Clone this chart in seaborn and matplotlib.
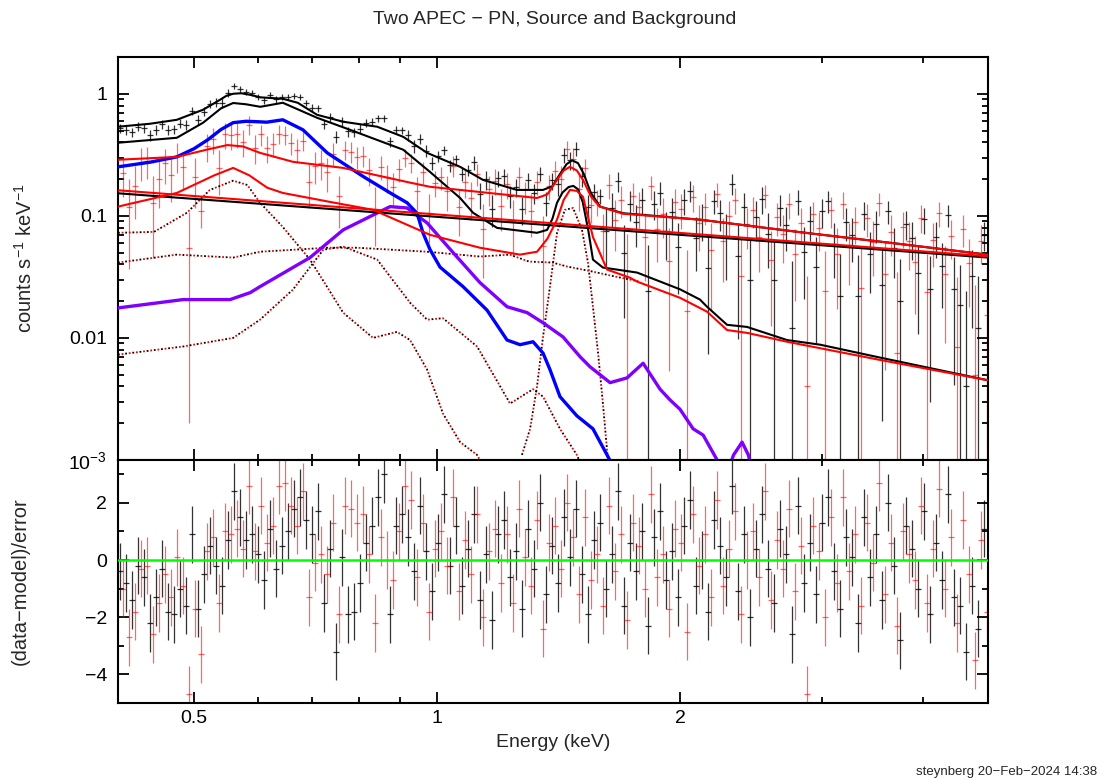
import numpy as np
import matplotlib
matplotlib.use("Agg")
import matplotlib.pyplot as plt
import matplotlib.ticker as mticker
import seaborn as sns

# ---------------- data ----------------
# source spectrum (black): bin centre energy (keV), rate, 1-sigma error, residual
src_energy = [
    0.405, 0.412, 0.419, 0.426, 0.434, 0.441, 0.449, 0.456, 0.464, 0.472,
    0.480, 0.489, 0.497, 0.506, 0.514, 0.523, 0.532, 0.542, 0.551, 0.560,
    0.570, 0.580, 0.590, 0.600, 0.610, 0.621, 0.632, 0.643, 0.654, 0.665,
    0.677, 0.688, 0.700, 0.712, 0.724, 0.737, 0.750, 0.763, 0.776, 0.789,
    0.803, 0.817, 0.831, 0.845, 0.860, 0.875, 0.890, 0.905, 0.921, 0.936,
    0.953, 0.969, 0.986, 1.003, 1.020, 1.038, 1.056, 1.074, 1.092, 1.111,
    1.130, 1.150, 1.170, 1.190, 1.211, 1.231, 1.253, 1.274, 1.296, 1.319,
    1.341, 1.365, 1.388, 1.412, 1.437, 1.461, 1.487, 1.512, 1.538, 1.565,
    1.592, 1.619, 1.647, 1.676, 1.705, 1.734, 1.764, 1.794, 1.825, 1.857,
    1.889, 1.922, 1.955, 1.988, 2.023, 2.058, 2.093, 2.129, 2.166, 2.203,
    2.242, 2.280, 2.320, 2.360, 2.400, 2.442, 2.484, 2.527, 2.570, 2.615,
    2.660, 2.706, 2.753, 2.800, 2.848, 2.898, 2.948, 2.998, 3.050, 3.103,
    3.156, 3.211, 3.266, 3.323, 3.380, 3.438, 3.498, 3.558, 3.619, 3.682,
    3.746, 3.810, 3.876, 3.943, 4.011, 4.080, 4.151, 4.222, 4.295, 4.369,
    4.445, 4.521, 4.599, 4.679, 4.759]
src_rate = [
    0.521, 0.506, 0.483, 0.538, 0.525, 0.459, 0.508, 0.563, 0.505, 0.512,
    0.569, 0.558, 0.718, 0.613, 0.715, 0.832, 0.846, 0.844, 1.024, 1.155,
    1.101, 1.032, 1.012, 0.946, 0.886, 0.981, 0.899, 0.937, 0.943, 0.964,
    0.940, 0.835, 0.761, 0.761, 0.563, 0.640, 0.446, 0.595, 0.492, 0.484,
    0.519, 0.574, 0.592, 0.629, 0.632, 0.407, 0.504, 0.502, 0.457, 0.373,
    0.429, 0.341, 0.272, 0.309, 0.345, 0.259, 0.290, 0.221, 0.238, 0.274,
    0.150, 0.199, 0.114, 0.203, 0.210, 0.146, 0.172, 0.113, 0.195, 0.154,
    0.222, 0.128, 0.195, 0.181, 0.314, 0.285, 0.353, 0.210, 0.118, 0.157,
    0.145, 0.0757, 0.117, 0.192, 0.0496, 0.125, 0.0894, 0.136, 0.0243, 0.126,
    0.155, 0.0754, 0.107, 0.0551, 0.134, 0.161, 0.0661, 0.093, 0.0374, 0.133,
    0.105, 0.0666, 0.184, 0.0468, 0.119, 0.030, 0.0975, 0.138, 0.0712, 0.0298,
    0.115, 0.0846, 0.012, 0.132, 0.0507, 0.0914, 0.038, 0.109, 0.133, 0.0588,
    0.0219, 0.0891, 0.0692, 0.022, 0.103, 0.0483, 0.085, 0.0271, 0.109, 0.055,
    0.020, 0.0858, 0.0664, 0.0338, 0.0936, 0.025, 0.0673, 0.0386, 0.102, 0.0251,
    0.0185, 0.004, 0.0321, 0.012, 0.0701]
src_err = [
    0.043, 0.043, 0.044, 0.044, 0.044, 0.045, 0.045, 0.046, 0.047, 0.048,
    0.049, 0.051, 0.054, 0.057, 0.060, 0.064, 0.069, 0.073, 0.078, 0.061,
    0.061, 0.059, 0.058, 0.056, 0.056, 0.055, 0.055, 0.055, 0.053, 0.052,
    0.050, 0.046, 0.057, 0.054, 0.051, 0.050, 0.048, 0.047, 0.046, 0.045,
    0.044, 0.044, 0.043, 0.043, 0.041, 0.038, 0.037, 0.036, 0.046, 0.043,
    0.039, 0.036, 0.034, 0.032, 0.030, 0.029, 0.028, 0.027, 0.025, 0.038,
    0.036, 0.035, 0.033, 0.032, 0.030, 0.030, 0.029, 0.029, 0.029, 0.029,
    0.029, 0.029, 0.031, 0.036, 0.043, 0.048, 0.046, 0.039, 0.030, 0.024,
    0.020, 0.037, 0.036, 0.035, 0.035, 0.034, 0.034, 0.034, 0.033, 0.033,
    0.033, 0.032, 0.032, 0.032, 0.032, 0.031, 0.031, 0.031, 0.030, 0.030,
    0.030, 0.037, 0.037, 0.037, 0.036, 0.036, 0.035, 0.035, 0.034, 0.034,
    0.033, 0.033, 0.031, 0.030, 0.030, 0.029, 0.029, 0.029, 0.028, 0.028,
    0.027, 0.027, 0.027, 0.026, 0.026, 0.025, 0.025, 0.025, 0.024, 0.024,
    0.024, 0.023, 0.023, 0.023, 0.022, 0.022, 0.022, 0.021, 0.021, 0.021,
    0.021, 0.020, 0.020, 0.020, 0.019]
src_resid = [
    -0.4, -0.8, -1.4, -0.2, -0.6, -2.2, -1.3, -0.3, -1.8, -1.9,
    -1.0, -1.6, 0.9, -1.7, -0.5, 0.5, -0.2, -0.9, 0.7, 2.4,
    1.5, 0.7, 0.9, 0.2, -0.7, 1.1, -0.3, 0.5, 1.0, 1.8,
    2.2, 1.4, 0.9, 1.7, -1.5, 0.4, -3.2, 0.1, -1.9, -1.8,
    -0.8, 0.6, 1.2, 2.2, 3.0, -1.9, 1.2, 1.6, 0.8, -0.4,
    1.9, 0.3, -1.1, 0.6, 2.3, -0.2, 1.2, -0.9, 0.4, 1.6,
    -1.4, 0.2, -2.1, 0.9, 1.4, -0.6, 0.3, -1.7, 1.1, -0.3,
    2.0, -1.2, 0.5, -0.8, 1.5, 0.1, 1.8, -0.5, -1.9, 0.7,
    1.3, -1.0, 0.2, 2.4, -1.6, 0.6, -0.4, 1.0, -2.3, 0.8,
    1.7, -0.7, 0.3, -1.3, 1.2, 2.1, -0.9, 0.0, -1.8, 1.4,
    0.5, -0.6, 2.6, -1.1, 0.9, -2.0, 0.4, 1.6, -0.3, -1.5,
    1.1, 0.2, -2.6, 1.9, -0.8, 0.6, -1.2, 1.3, 2.2, -0.4,
    -1.7, 0.8, 0.1, -2.2, 1.5, -0.6, 0.9, -1.4, 2.0, -0.2,
    -2.8, 1.2, 0.4, -1.0, 1.7, -1.9, 0.6, -0.7, 2.3, -1.3,
    -1.6, -3.2, -0.9, -2.4, 1.1]

# background spectrum (red)
bkg_energy = [
    0.408, 0.415, 0.423, 0.430, 0.437, 0.445, 0.453, 0.460, 0.468, 0.476,
    0.485, 0.493, 0.501, 0.510, 0.519, 0.528, 0.537, 0.546, 0.556, 0.565,
    0.575, 0.585, 0.595, 0.605, 0.616, 0.626, 0.637, 0.648, 0.659, 0.671,
    0.682, 0.694, 0.706, 0.718, 0.731, 0.743, 0.756, 0.769, 0.782, 0.796,
    0.810, 0.824, 0.838, 0.852, 0.867, 0.882, 0.897, 0.913, 0.928, 0.944,
    0.961, 0.977, 0.994, 1.011, 1.029, 1.047, 1.065, 1.083, 1.102, 1.121,
    1.140, 1.160, 1.180, 1.200, 1.221, 1.242, 1.264, 1.285, 1.307, 1.330,
    1.353, 1.376, 1.400, 1.424, 1.449, 1.474, 1.499, 1.525, 1.552, 1.578,
    1.606, 1.633, 1.661, 1.690, 1.719, 1.749, 1.779, 1.810, 1.841, 1.873,
    1.905, 1.938, 1.972, 2.006, 2.040, 2.075, 2.111, 2.148, 2.185, 2.222,
    2.261, 2.300, 2.339, 2.380, 2.421, 2.463, 2.505, 2.549, 2.593, 2.637,
    2.683, 2.729, 2.776, 2.824, 2.873, 2.922, 2.973, 3.024, 3.076, 3.129,
    3.183, 3.238, 3.294, 3.351, 3.409, 3.468, 3.528, 3.589, 3.651, 3.714,
    3.778, 3.843, 3.909, 3.977, 4.045, 4.115, 4.186, 4.258, 4.332, 4.407,
    4.483, 4.560, 4.639, 4.719, 4.800]
bkg_rate = [
    0.225, 0.118, 0.176, 0.275, 0.283, 0.128, 0.201, 0.269, 0.216, 0.311,
    0.249, 0.055, 0.207, 0.110, 0.373, 0.423, 0.248, 0.464, 0.458, 0.469,
    0.403, 0.558, 0.362, 0.464, 0.359, 0.388, 0.468, 0.459, 0.396, 0.346,
    0.413, 0.191, 0.257, 0.270, 0.227, 0.324, 0.145, 0.349, 0.336, 0.303,
    0.312, 0.236, 0.114, 0.253, 0.209, 0.172, 0.240, 0.300, 0.273, 0.159,
    0.230, 0.106, 0.187, 0.207, 0.160, 0.257, 0.118, 0.190, 0.140, 0.221,
    0.078, 0.166, 0.194, 0.120, 0.181, 0.0913, 0.209, 0.146, 0.109, 0.189,
    0.0568, 0.175, 0.234, 0.201, 0.353, 0.294, 0.166, 0.246, 0.123, 0.131,
    0.0745, 0.179, 0.0929, 0.136, 0.0316, 0.146, 0.118, 0.067, 0.174, 0.0786,
    0.103, 0.0424, 0.131, 0.114, 0.0165, 0.143, 0.0869, 0.119, 0.052, 0.152,
    0.0626, 0.0996, 0.136, 0.0321, 0.085, 0.112, 0.0666, 0.147, 0.0436, 0.0985,
    0.0712, 0.124, 0.049, 0.088, 0.004, 0.103, 0.0797, 0.0243, 0.111, 0.0484,
    0.126, 0.0572, 0.0892, 0.0257, 0.0964, 0.0611, 0.127, 0.0335, 0.0743, 0.0075,
    0.0809, 0.0622, 0.0418, 0.0968, 0.0239, 0.0631, 0.105, 0.0331, 0.0687, 0.0085,
    0.0786, 0.041, 0.005, 0.0623, 0.0153]
bkg_err = [
    0.081, 0.081, 0.082, 0.082, 0.083, 0.083, 0.084, 0.085, 0.085, 0.085,
    0.087, 0.053, 0.092, 0.030, 0.098, 0.100, 0.100, 0.110, 0.110, 0.110,
    0.100, 0.100, 0.095, 0.092, 0.089, 0.086, 0.083, 0.081, 0.078, 0.077,
    0.076, 0.075, 0.074, 0.073, 0.071, 0.071, 0.065, 0.064, 0.063, 0.061,
    0.060, 0.059, 0.057, 0.056, 0.054, 0.053, 0.051, 0.050, 0.049, 0.048,
    0.047, 0.046, 0.045, 0.044, 0.050, 0.050, 0.049, 0.049, 0.048, 0.047,
    0.047, 0.046, 0.046, 0.045, 0.044, 0.044, 0.043, 0.043, 0.042, 0.042,
    0.043, 0.039, 0.046, 0.054, 0.061, 0.063, 0.056, 0.046, 0.036, 0.031,
    0.029, 0.042, 0.041, 0.040, 0.039, 0.039, 0.038, 0.038, 0.038, 0.037,
    0.037, 0.037, 0.036, 0.036, 0.036, 0.036, 0.035, 0.035, 0.035, 0.034,
    0.034, 0.033, 0.033, 0.033, 0.032, 0.032, 0.032, 0.031, 0.031, 0.030,
    0.030, 0.030, 0.029, 0.029, 0.028, 0.028, 0.028, 0.027, 0.032, 0.031,
    0.031, 0.030, 0.030, 0.029, 0.029, 0.029, 0.028, 0.028, 0.027, 0.027,
    0.026, 0.026, 0.026, 0.025, 0.025, 0.025, 0.024, 0.024, 0.024, 0.023,
    0.023, 0.023, 0.022, 0.022, 0.022]
bkg_resid = [
    -1.0, -2.7, -1.8, -0.3, -0.2, -2.6, -1.5, -0.5, -1.3, 0.1,
    -0.9, -4.7, -1.7, -3.3, 0.3, 0.8, -1.5, 1.0, 0.9, 1.1,
    0.4, 2.6, 0.3, 1.9, 0.6, 1.2, 2.6, 2.7, 1.9, 1.2,
    2.4, -1.3, -0.1, 0.2, -0.5, 1.3, -1.9, 1.9, 1.8, 1.3,
    1.6, 0.2, -2.2, 0.8, 0.0, -0.7, 1.0, 2.6, 2.1, -0.6,
    1.3, -1.8, 0.4, 1.0, -0.2, 2.2, -1.1, 0.7, -0.5, 1.6,
    -2.0, 0.3, 1.1, -0.8, 0.9, -1.5, 1.8, 0.1, -0.9, 1.4,
    -2.4, 0.6, 1.2, -0.3, 2.0, 0.8, -1.2, 1.5, -0.7, 0.2,
    -1.6, 1.9, -0.4, 0.9, -2.1, 1.3, 0.5, -1.0, 2.3, -0.6,
    0.2, -1.7, 1.1, 0.6, -2.5, 1.6, -0.2, 0.9, -1.3, 2.1,
    -0.9, 0.4, 1.7, -1.9, 0.0, 1.0, -0.6, 2.4, -1.4, 0.7,
    -0.3, 1.8, -1.1, 0.5, -4.7, 1.2, 0.3, -2.0, 1.5, -0.8,
    2.2, -0.4, 0.9, -1.6, 1.3, -0.1, 2.7, -1.2, 0.6, -2.3,
    1.0, 0.2, -0.7, 1.9, -1.5, 0.4, 2.5, -1.0, 0.8, -2.2,
    1.4, -0.5, -3.5, 0.7, -1.8]

# model curves (energy knots, counts/s/keV)
src_total_e = [0.4025, 0.441, 0.476, 0.513, 0.538, 0.548, 0.559, 0.572, 0.587, 0.604,
               0.644, 0.672, 0.710, 0.765, 0.843, 0.908, 0.972, 1.068, 1.140, 1.256,
               1.353, 1.39, 1.42, 1.447, 1.47, 1.495, 1.52, 1.55, 1.592, 1.70,
               2.117, 2.816, 3.746, 4.815]
src_total = [0.537, 0.568, 0.612, 0.74, 0.89, 0.96, 1.0, 1.01, 0.98, 0.935,
             0.91, 0.844, 0.673, 0.59, 0.537, 0.444, 0.328, 0.252, 0.197, 0.163,
             0.163, 0.175, 0.22, 0.265, 0.285, 0.27, 0.22, 0.155, 0.119, 0.105,
             0.093, 0.0735, 0.0588, 0.048]
src_nopl_e = [0.4025, 0.476, 0.513, 0.540, 0.559, 0.580, 0.604, 0.644, 0.710, 0.780,
              0.908, 0.980, 1.068, 1.108, 1.187, 1.330, 1.369, 1.39, 1.408, 1.43,
              1.455, 1.475, 1.495, 1.515, 1.54, 1.56, 1.605, 1.769, 2.0, 2.117,
              2.16, 2.287, 2.421, 2.714, 2.982, 3.538, 4.81]
src_nopl = [0.397, 0.436, 0.579, 0.76, 0.84, 0.82, 0.782, 0.844, 0.636, 0.507,
            0.348, 0.229, 0.14, 0.106, 0.0796, 0.0726, 0.0767, 0.095, 0.128, 0.155,
            0.172, 0.176, 0.165, 0.13, 0.075, 0.0438, 0.0377, 0.0343, 0.025, 0.0206,
            0.018, 0.0128, 0.0123, 0.0096, 0.0088, 0.0069, 0.0045]
bkg_total_e = [0.4025, 0.476, 0.52, 0.55, 0.575, 0.6035, 0.663, 0.765, 0.926, 0.98,
               1.068, 1.33, 1.37, 1.408, 1.435, 1.461, 1.49, 1.5165, 1.55, 1.59,
               1.70, 2.117, 2.816, 3.746, 4.815]
bkg_total = [0.288, 0.304, 0.35, 0.38, 0.37, 0.328, 0.277, 0.247, 0.187, 0.173,
             0.163, 0.14, 0.15, 0.197, 0.235, 0.252, 0.235, 0.197, 0.145, 0.119,
             0.104, 0.093, 0.0735, 0.0588, 0.048]
bkg_nopl_e = [0.4025, 0.476, 0.53, 0.559, 0.585, 0.616, 0.644, 0.737, 0.833, 0.98,
              1.13, 1.267, 1.33, 1.37, 1.408, 1.435, 1.461, 1.49, 1.5165, 1.54,
              1.56, 1.624, 1.734, 1.77, 2.0, 2.16, 2.287, 2.42, 2.714, 3.538, 4.81]
bkg_nopl = [0.119, 0.154, 0.215, 0.247, 0.215, 0.170, 0.154, 0.13, 0.112, 0.0699,
            0.0548, 0.0481, 0.0508, 0.065, 0.093, 0.135, 0.163, 0.16, 0.143, 0.095,
            0.067, 0.0363, 0.0311, 0.0289, 0.0213, 0.0164, 0.0116, 0.011, 0.0093, 0.0066, 0.0045]
pl_e = [0.4025, 4.815]
src_pl = [0.153, 0.0455]
bkg_pl = [0.162, 0.0466]

apec1_e = [0.4025, 0.441, 0.476, 0.50, 0.52, 0.54, 0.559, 0.58, 0.60, 0.615,
           0.644, 0.682, 0.731, 0.81, 0.875, 0.918, 0.9445, 0.961, 0.98, 1.0086,
           1.077, 1.153, 1.221, 1.267, 1.315, 1.353, 1.38, 1.42, 1.49, 1.56,
           1.624, 1.65]
apec1 = [0.252, 0.275, 0.304, 0.355, 0.42, 0.51, 0.58, 0.595, 0.59, 0.585,
         0.612, 0.507, 0.328, 0.21, 0.154, 0.128, 0.105, 0.072, 0.053, 0.038,
         0.0263, 0.0169, 0.0096, 0.0088, 0.0093, 0.0075, 0.0055, 0.0033, 0.0023, 0.0018,
         0.0011, 0.0009]
apec2_e = [0.4025, 0.4845, 0.554, 0.587, 0.6035, 0.696, 0.765, 0.8745, 0.918, 0.972,
           1.047, 1.13, 1.221, 1.293, 1.353, 1.432, 1.504, 1.547, 1.638, 1.719,
           1.80, 1.889, 1.944, 2.0, 2.076, 2.136, 2.223, 2.25]
apec2 = [0.0176, 0.0206, 0.0206, 0.0235, 0.0263, 0.0455, 0.0767, 0.119, 0.116, 0.0875,
         0.0499, 0.0284, 0.018, 0.0161, 0.0133, 0.0102, 0.007, 0.0058, 0.0043, 0.0047,
         0.0062, 0.0038, 0.0031, 0.0026, 0.0018, 0.0016, 0.0010, 0.0008]
apec2b_e = [2.29, 2.33, 2.387, 2.43, 2.46]
apec2b = [0.0008, 0.0011, 0.0014, 0.0011, 0.0008]

# background components (dotted)
comp1_e = [0.4025, 0.446, 0.49, 0.523, 0.559, 0.582, 0.6035, 0.644, 0.696, 0.765,
           0.833, 0.892, 0.926, 0.972, 1.017, 1.068, 1.121, 1.14]
comp1 = [0.0726, 0.0739, 0.106, 0.163, 0.194, 0.179, 0.128, 0.0811, 0.0438, 0.0161,
         0.0100, 0.0112, 0.0096, 0.0055, 0.0024, 0.0014, 0.0011, 0.0009]
comp2_e = [0.4025, 0.476, 0.559, 0.6035, 0.731, 0.796, 0.972, 1.13, 1.23, 1.30,
           1.39, 1.45, 1.56, 1.67, 1.78]
comp2 = [0.0414, 0.0481, 0.0455, 0.0508, 0.0548, 0.0548, 0.0508, 0.0464, 0.0481, 0.0422,
         0.0414, 0.0384, 0.0349, 0.0316, 0.029]
comp3_e = [0.4025, 0.4845, 0.559, 0.6035, 0.663, 0.723, 0.765, 0.843, 0.926, 0.972,
           1.017, 1.121, 1.2315, 1.315, 1.353, 1.42, 1.49, 1.51]
comp3 = [0.0073, 0.0085, 0.0100, 0.0141, 0.0249, 0.0528, 0.0559, 0.0438, 0.0194, 0.0141,
         0.0145, 0.0085, 0.0029, 0.0038, 0.0033, 0.0018, 0.0011, 0.0009]
line_e = [1.274, 1.304, 1.33, 1.353, 1.38, 1.408, 1.44, 1.474, 1.512, 1.538,
          1.56, 1.583, 1.605, 1.624, 1.63]
line = [0.0011, 0.0018, 0.0040, 0.0102, 0.0263, 0.0726, 0.112, 0.116, 0.0767, 0.0414,
        0.018, 0.0075, 0.0029, 0.0012, 0.0009]

BIN_HALF = 0.0086  # relative half-width of the energy bins

sns.set_theme(style="ticks")
plt.rcParams["font.family"] = ["Liberation Sans", "DejaVu Sans"]
plt.rcParams["mathtext.fontset"] = "custom"
plt.rcParams["mathtext.rm"] = "Liberation Sans"
plt.rcParams["mathtext.it"] = "Liberation Sans:italic"
plt.rcParams["mathtext.bf"] = "Liberation Sans:bold"

fig = plt.figure(figsize=(11.02, 7.8), dpi=100)
ax = fig.add_axes([0.1071, 0.4103, 0.7895, 0.5166])
axr = fig.add_axes([0.1071, 0.0987, 0.7895, 0.3116], sharex=ax)

ax.set_xscale("log")
ax.set_yscale("log")

se = np.array(src_energy)
be = np.array(bkg_energy)

# data points
ax.errorbar(se, src_rate, yerr=src_err, xerr=se * BIN_HALF, fmt="none",
            ecolor="black", elinewidth=0.9, alpha=0.8, zorder=2)
ax.errorbar(be, bkg_rate, yerr=bkg_err, xerr=be * BIN_HALF, fmt="none",
            ecolor="red", elinewidth=0.9, alpha=0.6, zorder=2)

# model curves
def curve(x, y, color, lw=1.5, ls="-"):
    sns.lineplot(x=x, y=y, ax=ax, color=color, linewidth=lw, linestyle=ls,
                 estimator=None, sort=False, legend=False, zorder=4,
                 solid_joinstyle="round", solid_capstyle="round")

dot_k = (0, (1, 3))
dot_r = (2, (1, 3))
for xe, yv in [(comp1_e, comp1), (comp2_e, comp2), (comp3_e, comp3), (line_e, line)]:
    curve(xe, yv, "black", lw=1.3, ls=dot_k)
    curve(xe, yv, "red", lw=1.3, ls=dot_r)

curve(apec2_e, apec2, "#8000ff", lw=2.4)
curve(apec2b_e, apec2b, "#8000ff", lw=2.4)
curve(apec1_e, apec1, "#0000ff", lw=2.4)
curve(pl_e, src_pl, "black")
curve(src_nopl_e, src_nopl, "black")
curve(src_total_e, src_total, "black")
curve(pl_e, bkg_pl, "red")
curve(bkg_nopl_e, bkg_nopl, "red")
curve(bkg_total_e, bkg_total, "red")

# residuals
axr.errorbar(se, src_resid, yerr=1, xerr=se * BIN_HALF, fmt="none",
             ecolor="black", elinewidth=0.9, alpha=0.8, zorder=2)
axr.errorbar(be, bkg_resid, yerr=1, xerr=be * BIN_HALF, fmt="none",
             ecolor="red", elinewidth=0.9, alpha=0.6, zorder=2)
axr.axhline(0, color="#00ff00", lw=1.8, zorder=4)

# axes
ax.set_xlim(0.4025, 4.815)
ax.set_ylim(1e-3, 2.0)
axr.set_ylim(-5.0, 3.5)

axr.xaxis.set_major_locator(mticker.FixedLocator([0.5, 1, 2]))
axr.xaxis.set_major_formatter(mticker.FixedFormatter(["0.5", "1", "2"]))
axr.xaxis.set_minor_locator(mticker.FixedLocator([0.6, 0.7, 0.8, 0.9, 3, 4]))
axr.xaxis.set_minor_formatter(mticker.NullFormatter())

ax.yaxis.set_major_locator(mticker.FixedLocator([1e-3, 1e-2, 0.1, 1]))
ax.yaxis.set_major_formatter(mticker.FixedFormatter(["10$^{-3}$", "0.01", "0.1", "1"]))
ax.yaxis.set_minor_locator(mticker.LogLocator(base=10, subs=np.arange(2, 10)))
ax.yaxis.set_minor_formatter(mticker.NullFormatter())

axr.yaxis.set_major_locator(mticker.MultipleLocator(2))
axr.yaxis.set_minor_locator(mticker.MultipleLocator(1))

for a in (ax, axr):
    a.tick_params(which="both", direction="in", top=True, right=True,
                  width=1.3, colors="black", labelsize=14, pad=8)
    a.tick_params(which="major", length=8)
    a.tick_params(which="minor", length=4)
    for s in a.spines.values():
        s.set_linewidth(1.5)
        s.set_color("black")
    a.grid(False)
ax.tick_params(labelbottom=False)
axr.tick_params(axis="x", pad=5)

ax.set_ylabel("counts s$^{-1}$ keV$^{-1}$", fontsize=14.5)
ax.yaxis.set_label_coords(-0.094, 0.5)
axr.set_ylabel("(data\u2212model)/error", fontsize=14.5)
axr.yaxis.set_label_coords(-0.101, 0.5)
axr.set_xlabel("Energy (keV)", fontsize=14, labelpad=5)

fig.text(0.503, 0.975, "Two APEC \u2212 PN, Source and Background", ha="center", va="center", fontsize=14)
fig.text(0.9955, 0.0103, "steynberg 20\u2212Feb\u22122024 14:38", ha="right", va="center", fontsize=9.5)

fig.savefig("out.png", dpi=100)
